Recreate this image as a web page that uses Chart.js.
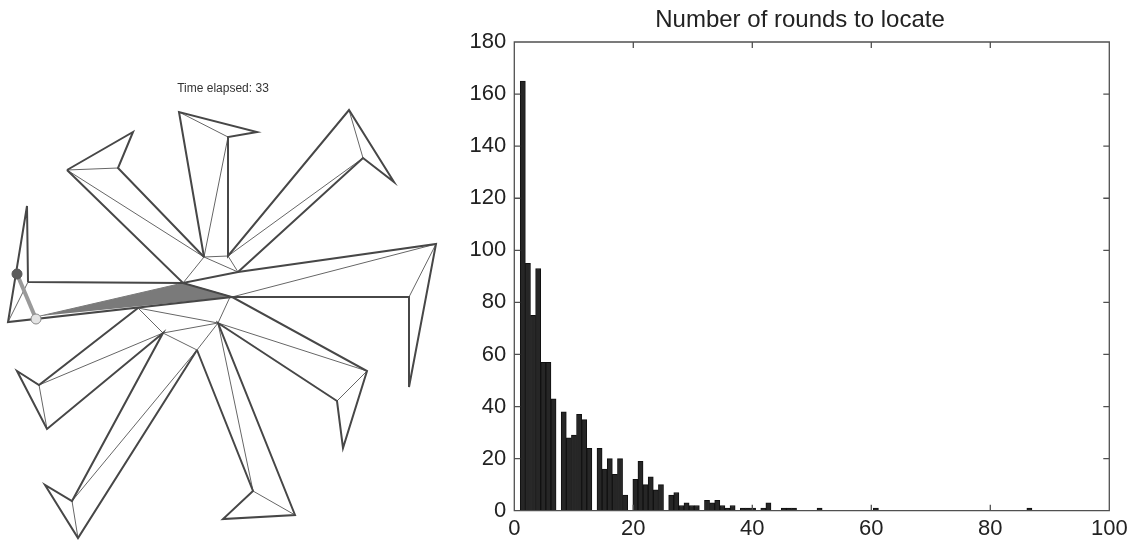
<!DOCTYPE html>
<html>
<head>
<meta charset="utf-8">
<script src="https://cdn.jsdelivr.net/npm/chart.js@4"></script>
<style>
  html, body { margin: 0; padding: 0; background: #fff; overflow: hidden; }
  #wrapLeft { position: absolute; left: 0; top: 0; width: 446px; height: 542px; }
  #wrapRight { position: absolute; left: 450px; top: 0; width: 679px; height: 542px; }
  canvas { filter: blur(0.45px); }
</style>
</head>
<body>
<div id="wrapLeft"><canvas id="mazeChart"></canvas></div>
<div id="wrapRight"><canvas id="roundsChart"></canvas></div>
<script>
// histogram, right panel
const chartTitle = 'Number of rounds to locate';
const binCentres = [
  1.43, 2.29, 3.15, 4.01, 4.87, 5.73, 6.59,
  8.31, 9.17, 10.03, 10.89, 11.75, 12.61,
  14.33, 15.19, 16.05, 16.91, 17.77, 18.63,
  20.35, 21.21, 22.07, 22.93, 23.79, 24.65,
  26.37, 27.23, 28.09, 28.95, 29.81, 30.67,
  32.39, 33.25, 34.11, 34.97, 35.83, 36.69,
  38.41, 39.27, 40.13, 41.85, 42.71,
  45.29, 46.15, 47.01, 51.31, 60.77, 86.57
];
const binCounts = [
  165, 95, 75, 93, 57, 57, 43,
  38, 28, 29, 37, 35, 24,
  24, 16, 20, 14, 20, 6,
  12, 19, 10, 13, 8, 10,
  6, 7, 2, 3, 2, 2,
  4, 3, 4, 2, 1, 2,
  1, 1, 1, 1, 3,
  1, 1, 1, 1, 1, 1
];
const xTickValues = [0, 20, 40, 60, 80, 100];
const yTickValues = [0, 20, 40, 60, 80, 100, 120, 140, 160, 180];

// simulation snapshot, left panel (points are x, y pairs in picture units)
const timeLabel = 'Time elapsed: 33';
const outlinePaths = [
  [[67,170],[133,132],[118,168],[204,257]],
  [[67,170],[183,283],[238,272],[436,244],[409,387],[409,297],[232,297],[367,371],[343,448],[337,401],[218,323],[295,515],[223,519],[253,491],[197,350]],
  [[204,257],[179,112],[257,132],[228,137],[228,256],[349,110],[394,182],[363,158],[238,272]],
  [[28,282],[27,206],[8,322],[232,297],[183,283],[28,282]],
  [[138,308],[39,385],[17,371],[47,429],[163,333],[72,501],[45,485],[78,538],[197,350]]
];
const innerPaths = [
  [[67,170],[118,168]],
  [[67,170],[204,257],[228,137]],
  [[179,112],[228,137]],
  [[349,110],[363,158],[228,256],[204,257],[183,283]],
  [[204,257],[238,272],[228,256]],
  [[232,297],[436,244],[409,297]],
  [[28,282],[8,322]],
  [[230,297],[218,323],[138,308],[163,333],[218,323],[197,350],[163,333],[39,385],[47,429]],
  [[39,385],[17,371]],
  [[218,323],[367,371],[337,401]],
  [[218,323],[253,491],[295,515]],
  [[197,350],[72,501],[78,538]]
];
const visibleArea = [[40,316],[183,283],[232,297]];
const agentLine = [[17,274],[36,319]];

const xy = p => ({ x: p[0], y: p[1] });

function pathDataset(path, width, color, order) {
  return { data: path.map(xy), showLine: true, pointRadius: 0, borderWidth: width, borderColor: color, order: order };
}

new Chart(document.getElementById('mazeChart').getContext('2d'), {
  type: 'scatter',
  data: {
    datasets: [
      { data: agentLine.map(xy), showLine: true, borderColor: '#9a9a9a', borderWidth: 4, pointRadius: 5,
        pointBackgroundColor: ['#5c5c5c', '#e4e4e4'], pointBorderColor: ['#555', '#888'], pointBorderWidth: 1, order: 0 },
      ...outlinePaths.map(p => pathDataset(p, 2, '#474747', 1)),
      ...innerPaths.map(p => pathDataset(p, 1, '#666', 2)),
      { data: visibleArea.map(xy), showLine: true, fill: 'shape', backgroundColor: '#7a7a7a', borderColor: '#7a7a7a',
        borderWidth: 1, pointRadius: 0, order: 3 }
    ]
  },
  options: {
    responsive: true,
    maintainAspectRatio: false,
    animation: false,
    layout: { padding: 0, autoPadding: false },
    scales: {
      x: { display: false, min: 0, max: 446 },
      y: { display: false, min: 96, max: 542, reverse: true }
    },
    plugins: {
      legend: { display: false },
      tooltip: { enabled: false },
      title: {
        display: true,
        text: timeLabel,
        color: '#333',
        font: { family: 'Liberation Sans', size: 12, weight: 'normal', lineHeight: 1.2 },
        padding: { top: 81.6, bottom: 0 }
      }
    }
  }
});

// matlab style box with ticks pointing inwards
const boxTicks = {
  id: 'boxTicks',
  afterLayout(chart) {
    // labels stick out past the narrow axis box, don't let them get clipped
    chart.scales.y.left = 0;
  },
  afterDatasetsDraw(chart) {
    const { ctx, chartArea: a, scales } = chart;
    ctx.save();
    ctx.strokeStyle = '#505050';
    ctx.lineWidth = 1.3;
    ctx.beginPath();
    ctx.rect(a.left, a.top, a.right - a.left, a.bottom - a.top);
    xTickValues.forEach(v => {
      const x = scales.x.getPixelForValue(v);
      ctx.moveTo(x, a.bottom); ctx.lineTo(x, a.bottom - 6);
      ctx.moveTo(x, a.top); ctx.lineTo(x, a.top + 6);
    });
    yTickValues.forEach(v => {
      const y = scales.y.getPixelForValue(v);
      ctx.moveTo(a.left, y); ctx.lineTo(a.left + 6, y);
      ctx.moveTo(a.right, y); ctx.lineTo(a.right - 6, y);
    });
    ctx.stroke();
    ctx.restore();
  }
};

const tickFont = { family: 'Liberation Sans', size: 22 };

new Chart(document.getElementById('roundsChart').getContext('2d'), {
  type: 'bar',
  data: {
    datasets: [{
      data: binCentres.map((c, i) => ({ x: c, y: binCounts[i] })),
      backgroundColor: '#262626',
      borderColor: '#111',
      borderWidth: 1,
      barPercentage: 1,
      categoryPercentage: 1
    }]
  },
  options: {
    responsive: true,
    maintainAspectRatio: false,
    animation: false,
    layout: { padding: { left: 40.7, right: 19.7 } },
    scales: {
      x: {
        type: 'linear',
        offset: false,
        min: 0,
        max: 100,
        grid: { display: false },
        border: { display: false },
        afterBuildTicks: s => { s.ticks = xTickValues.map(v => ({ value: v })); },
        afterFit: s => { s.height = 31.3; },
        ticks: { color: '#222', font: tickFont, padding: -3, maxRotation: 0, autoSkip: false }
      },
      y: {
        min: 0,
        max: 180,
        grid: { display: false },
        border: { display: false },
        afterBuildTicks: s => { s.ticks = yTickValues.map(v => ({ value: v })); },
        afterFit: s => { s.width = 23.6; },
        ticks: { color: '#222', font: tickFont, padding: 0, autoSkip: false }
      }
    },
    plugins: {
      legend: { display: false },
      tooltip: { enabled: false },
      title: {
        display: true,
        text: chartTitle,
        color: '#222',
        font: { family: 'Liberation Sans', size: 24, weight: 'normal', lineHeight: 1.2 },
        padding: { top: 5.6, bottom: 7.6 }
      }
    }
  },
  plugins: [boxTicks]
});
</script>
</body>
</html>
